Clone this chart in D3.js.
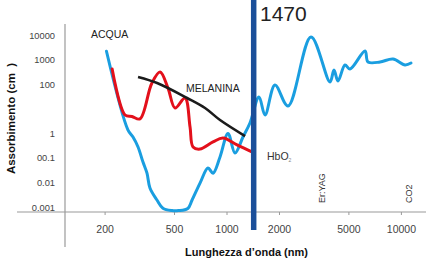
<!DOCTYPE html>
<html>
<head>
<meta charset="utf-8">
<script src="https://cdn.jsdelivr.net/npm/d3@7"></script>
<style>
  body { margin: 0; background: #fff; }
  svg { display: block; font-family: "Liberation Sans", Arial, sans-serif; }
</style>
</head>
<body>
<div id="chart"></div>
<script>
// acqua (water) absorption curve
var waterNm  = [205, 272, 291, 311, 332, 350, 364, 400, 432, 487, 530, 600, 634, 705, 783, 837, 918, 1020, 1119, 1243, 1363, 1536, 1663, 1897, 2253, 3051, 3922, 4134, 4358, 4780, 5107, 6226, 6478, 7590, 9011, 10556, 11427];
var waterAbs = [2200, 1.4, 0.71, 0.28, 0.068, 0.024, 0.006, 0.0019, 0.0009, 0.00072, 0.00072, 0.00088, 0.0019, 0.0095, 0.039, 0.024, 0.11, 1.0, 0.16, 0.71, 2.65, 30, 5.6, 93, 13, 8400, 124, 380, 136, 608, 418, 2260, 805, 805, 1070, 608, 730];

// HbO2 curve
var hbNm  = [221, 262, 287, 319, 373, 416, 462, 507, 578, 618, 643, 705, 837, 955, 1149, 1440];
var hbAbs = [418, 5.6, 4.9, 3.9, 110, 316, 70, 10.8, 27.6, 1.82, 0.28, 0.23, 0.45, 0.65, 0.34, 0.16];

// melanina curve
var melNm  = [311, 400, 594, 753, 918, 1277];
var melAbs = [197, 112, 27.6, 10.8, 3.5, 0.78];

var xTicks = [200, 500, 1000, 2000, 5000, 10000];
var yTicks = [10000, 1000, 100, 1, 0.1, 0.01, 0.001];
var yTickLabels = ["10000", "1000", "100", "1", "00.1", "0.01", "0.001"];

var laserNm = 1470;

var width = 426, height = 259;

var svg = d3.select("#chart").append("svg")
  .attr("width", width)
  .attr("height", height);

var x = d3.scaleLog().domain([200, 10000]).range([104.6, 400.9]);
var y = d3.scaleLog().domain([0.001, 10000]).range([207.1, 35.1]);

var zip = function(a, b) { return a.map(function(v, i) { return { nm: v, abs: b[i] }; }); };

var line = d3.line()
  .x(function(d) { return x(d.nm); })
  .y(function(d) { return y(d.abs); })
  .curve(d3.curveCatmullRom.alpha(0.5));

// axis lines
svg.append("line")
  .attr("x1", 65).attr("x2", 65).attr("y1", 24).attr("y2", 247)
  .attr("stroke", "#9a9a9a").attr("stroke-width", 1.2);
svg.append("line")
  .attr("x1", 17).attr("x2", 426).attr("y1", 212).attr("y2", 212)
  .attr("stroke", "#9a9a9a").attr("stroke-width", 1.2);

// y axis
var gy = svg.append("g")
  .attr("transform", "translate(65,0)")
  .call(d3.axisLeft(y).tickValues(yTicks).tickSize(0).tickPadding(10)
    .tickFormat(function(d, i) { return yTickLabels[i]; }));
gy.select(".domain").remove();
gy.selectAll("text").attr("fill", "#444").style("font-size", "9.3px").attr("font-family", null);

// x axis
var gx = svg.append("g")
  .attr("transform", "translate(0,212)")
  .call(d3.axisBottom(x).tickValues(xTicks).tickSize(3).tickPadding(10.4)
    .tickFormat(d3.format("d")));
gx.select(".domain").remove();
gx.selectAll("line").attr("stroke", "#9a9a9a");
gx.selectAll("text").attr("fill", "#444").style("font-size", "10.5px").attr("font-family", null);

// curves
svg.append("path")
  .attr("d", line(zip(waterNm, waterAbs)))
  .attr("fill", "none").attr("stroke", "#1a9ee0").attr("stroke-width", 3)
  .attr("stroke-linejoin", "round").attr("stroke-linecap", "round");

svg.append("path")
  .attr("d", line(zip(hbNm, hbAbs)))
  .attr("fill", "none").attr("stroke", "#e3101b").attr("stroke-width", 3)
  .attr("stroke-linejoin", "round").attr("stroke-linecap", "round");

svg.append("path")
  .attr("d", line(zip(melNm, melAbs)))
  .attr("fill", "none").attr("stroke", "#1b1b1b").attr("stroke-width", 2.6)
  .attr("stroke-linejoin", "round");

// 1470 laser line
svg.append("line")
  .attr("x1", x(laserNm) - 2).attr("x2", x(laserNm) - 2)
  .attr("y1", 0).attr("y2", 230)
  .attr("stroke", "#1b4f9a").attr("stroke-width", 5.5);

svg.append("text")
  .attr("x", 260).attr("y", 20.5)
  .style("font-size", "21px").attr("fill", "#222")
  .text("1470");

// curve labels
svg.append("text").attr("x", 91).attr("y", 38)
  .style("font-size", "10.5px").attr("fill", "#222").text("ACQUA");
svg.append("text").attr("x", 186).attr("y", 92)
  .style("font-size", "10.5px").attr("fill", "#222").text("MELANINA");
var hb = svg.append("text").attr("x", 267).attr("y", 160)
  .style("font-size", "10.5px").attr("fill", "#333");
hb.append("tspan").text("HbO");
hb.append("tspan").attr("dy", 2).style("font-size", "5px").attr("fill", "#888").text("2");

// other lasers
svg.append("text").attr("transform", "translate(325,203) rotate(-90)")
  .style("font-size", "9px").attr("fill", "#333").text("Er:YAG");
svg.append("text").attr("transform", "translate(412,203) rotate(-90)")
  .style("font-size", "9px").attr("fill", "#333").text("CO2");

// axis titles
svg.append("text")
  .attr("transform", "translate(15,118.5) rotate(-90)")
  .style("text-anchor", "middle").style("font-weight", "bold")
  .style("font-size", "11.5px").style("white-space", "pre").attr("fill", "#111")
  .text("Assorbimento (cm  )");

svg.append("text")
  .attr("x", 246.5).attr("y", 256)
  .style("text-anchor", "middle").style("font-weight", "bold")
  .style("font-size", "11px").attr("fill", "#111")
  .text("Lunghezza d\u2019onda (nm)");
</script>
</body>
</html>
